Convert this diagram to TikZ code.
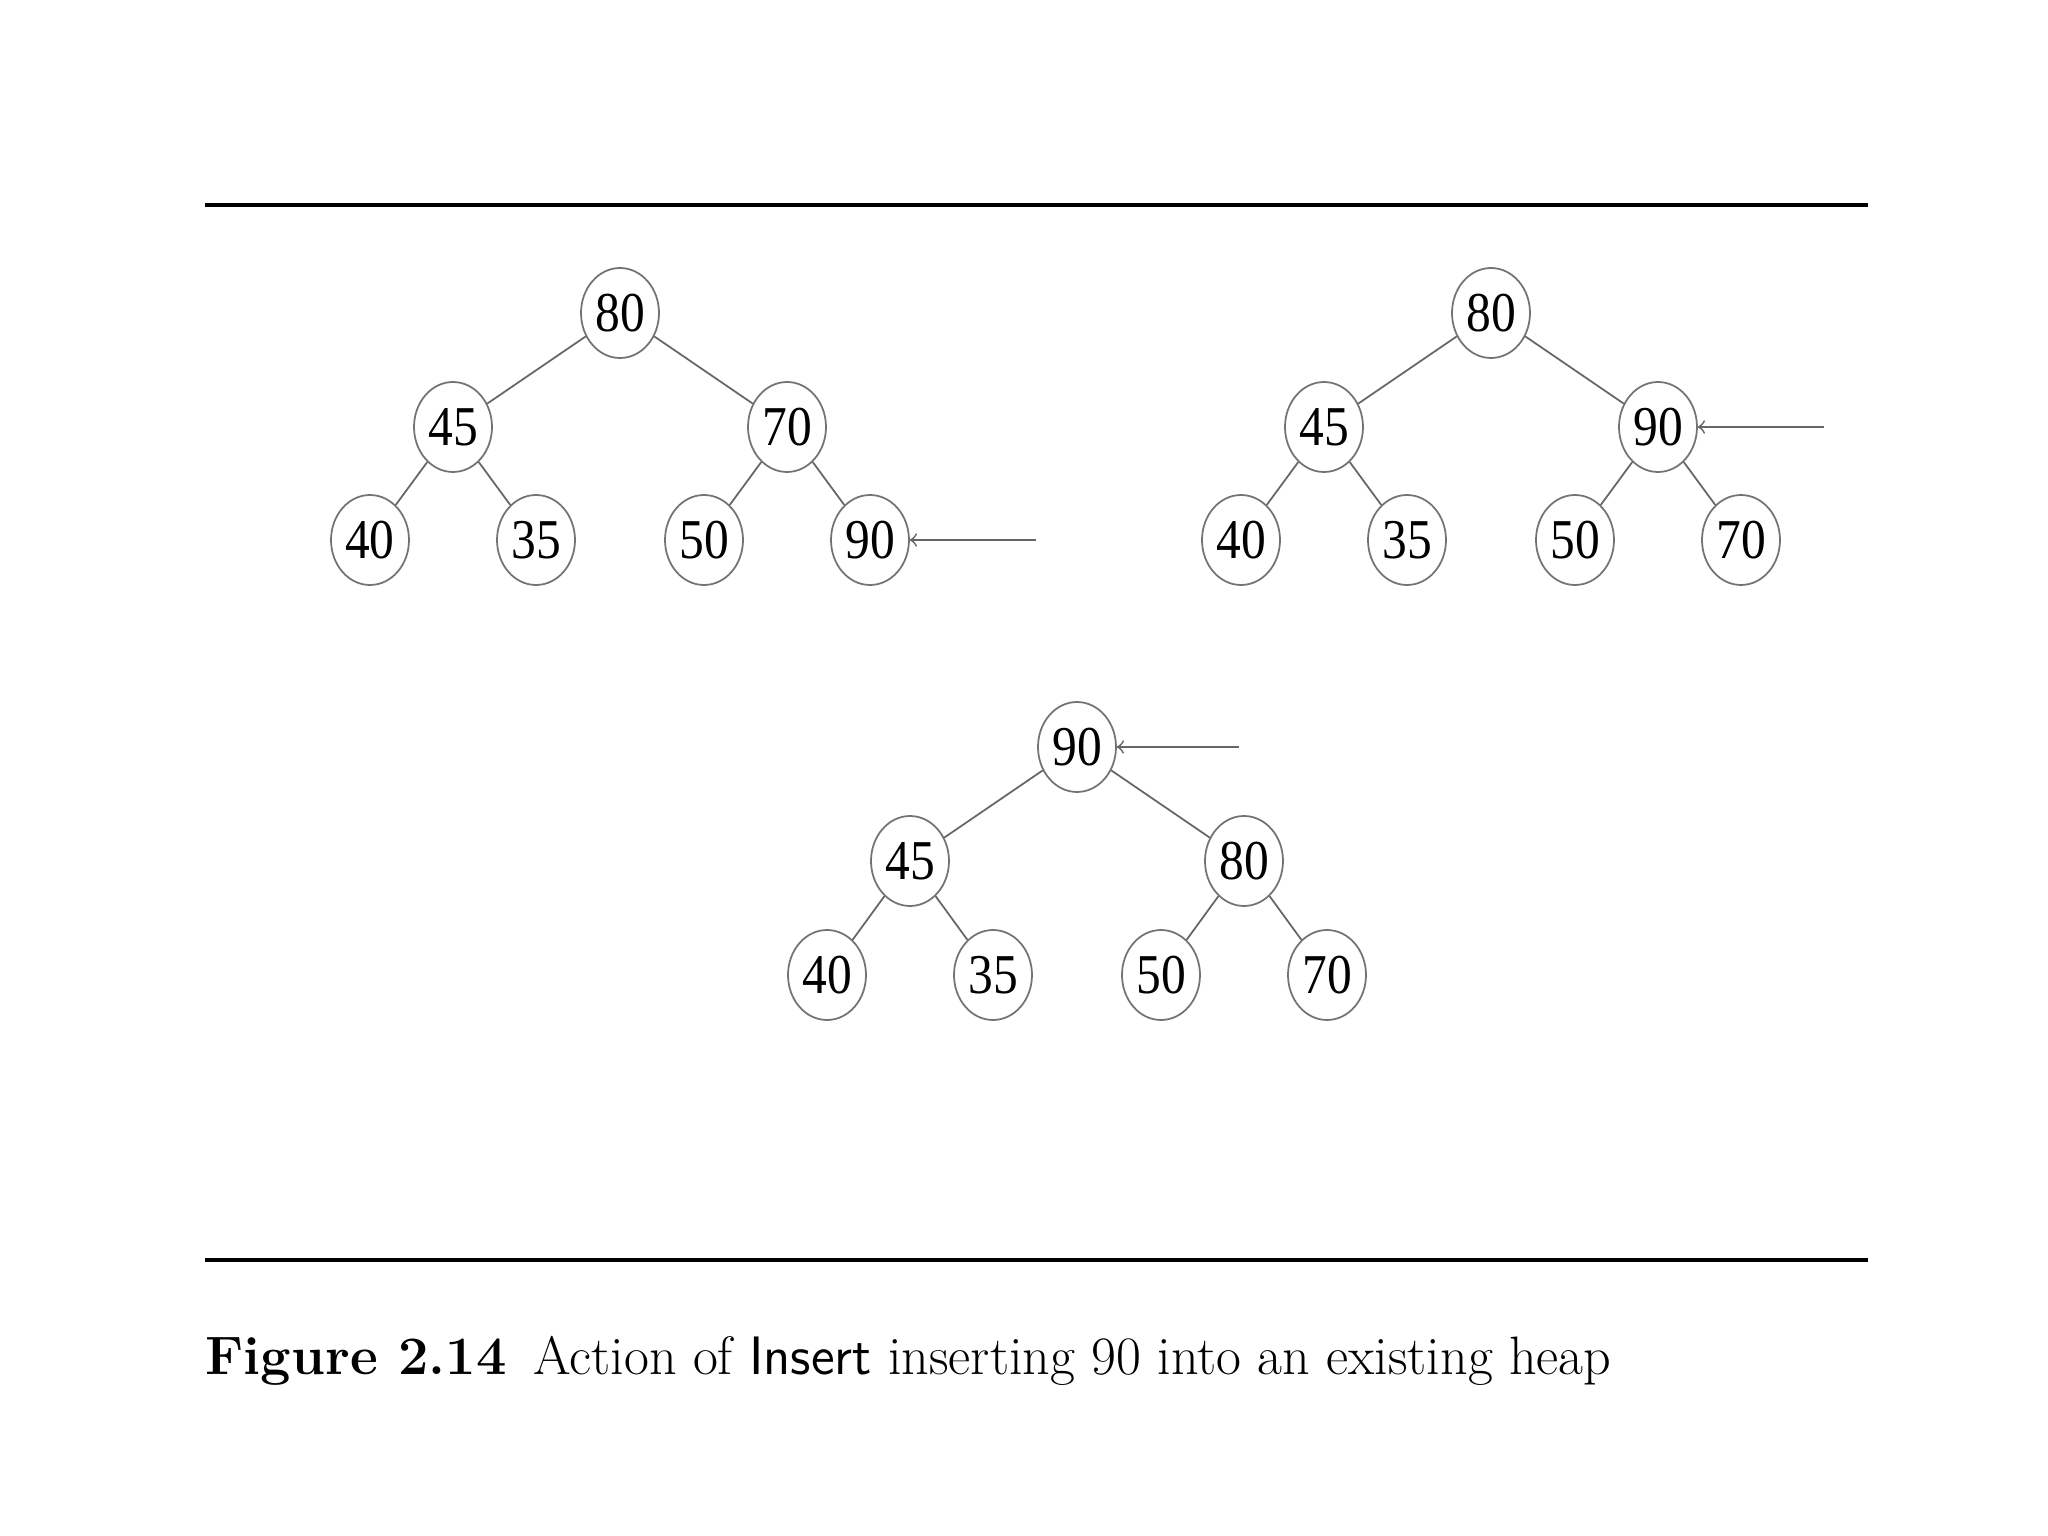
\documentclass[tikz,border=0pt]{standalone}
\usepackage{fontspec}
\newfontfamily\keyfont[FakeStretch=0.88]{Liberation Serif}
\usetikzlibrary{shapes.geometric,positioning}

\begin{document}
\begin{tikzpicture}[
    on grid,
    node distance=1.14cm and 1.67cm,
    key/.style={ellipse, draw=black!55, line width=0.5pt, minimum width=0.78cm,
                minimum height=0.9cm, inner sep=0pt,
                font=\keyfont\fontsize{16}{16}\selectfont},
    edge/.style={draw=black!60, line width=0.5pt},
    pointer/.style={->, draw=black!60, line width=0.5pt},
    rule/.style={line width=1.1pt}
  ]
    \useasboundingbox (0,0) rectangle (20.48,-15.36);
    \draw[rule] (2.05,-2.05) -- (18.68,-2.05);
    \draw[rule] (2.05,-12.60) -- (18.68,-12.60);

    \node[key] (a80) at (6.20,-3.13) {80};
    \node[key, below left=of a80] (a45) {45};
    \node[key, below right=of a80] (a70) {70};
    \node[key, below left=1.13cm and 0.83cm of a45] (a40) {40};
    \node[key, below right=1.13cm and 0.83cm of a45] (a35) {35};
    \node[key, below left=1.13cm and 0.83cm of a70] (a50) {50};
    \node[key, below right=1.13cm and 0.83cm of a70] (a90) {90};
    \coordinate[right=1.66cm of a90] (ptra);

    \node[key] (b80) at (14.91,-3.13) {80};
    \node[key, below left=of b80] (b45) {45};
    \node[key, below right=of b80] (b90) {90};
    \node[key, below left=1.13cm and 0.83cm of b45] (b40) {40};
    \node[key, below right=1.13cm and 0.83cm of b45] (b35) {35};
    \node[key, below left=1.13cm and 0.83cm of b90] (b50) {50};
    \node[key, below right=1.13cm and 0.83cm of b90] (b70) {70};
    \coordinate[right=1.66cm of b90] (ptrb);

    \node[key] (c90) at (10.77,-7.47) {90};
    \node[key, below left=of c90] (c45) {45};
    \node[key, below right=of c90] (c80) {80};
    \node[key, below left=1.14cm and 0.83cm of c45] (c40) {40};
    \node[key, below right=1.14cm and 0.83cm of c45] (c35) {35};
    \node[key, below left=1.14cm and 0.83cm of c80] (c50) {50};
    \node[key, below right=1.14cm and 0.83cm of c80] (c70) {70};
    \coordinate[right=1.62cm of c90] (ptrc);

    \draw[edge] (a80) -- (a45) (a80) -- (a70) (a45) -- (a40) (a45) -- (a35)
                (a70) -- (a50) (a70) -- (a90);
    \draw[edge] (b80) -- (b45) (b80) -- (b90) (b45) -- (b40) (b45) -- (b35)
                (b90) -- (b50) (b90) -- (b70);
    \draw[edge] (c90) -- (c45) (c90) -- (c80) (c45) -- (c40) (c45) -- (c35)
                (c80) -- (c50) (c80) -- (c70);
    \draw[pointer] (ptra) -- (a90);
    \draw[pointer] (ptrb) -- (b90);
    \draw[pointer] (ptrc) -- (c90);

    \node[anchor=base west, inner sep=0pt] (caption) at (2.05,-13.74)
      {\fontsize{15.4}{16}\selectfont\textbf{Figure 2.14}\enspace
       Action of {\sffamily Insert} inserting 90 into an existing heap};
  \end{tikzpicture}
\end{document}
